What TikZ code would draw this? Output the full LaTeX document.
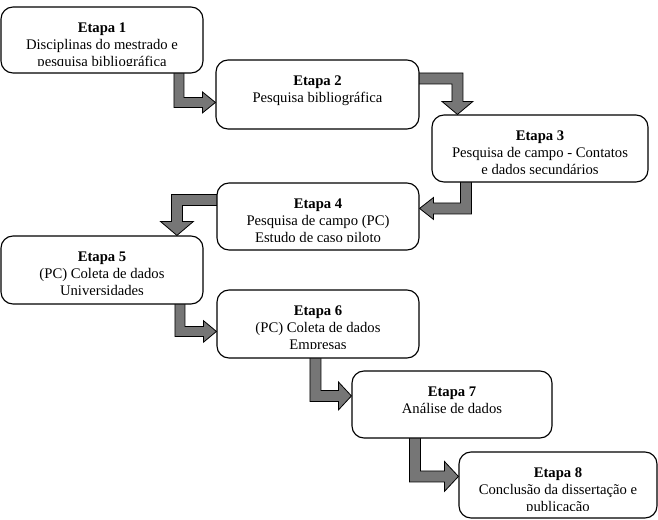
\documentclass[tikz,border=0pt]{standalone}
\usepackage{fontspec}
\setmainfont{Liberation Serif}
\usetikzlibrary{calc}
\pgfdeclarelayer{background}
\pgfsetlayers{background,main}
\definecolor{arrowgray}{RGB}{118,118,118}
\tikzset{
  stage/.style={draw=black, line width=0.85pt, fill=white, rounded corners=9pt, inner sep=0pt},
  stagetext/.style={anchor=north, align=center, inner sep=0pt, font=\fontsize{11pt}{12.75pt}\selectfont},
  blockarrow/.style={fill=arrowgray, draw=black, line width=0.6pt, line join=miter},
}
% name, x1, y1, x2, y2, text
\newcommand{\mkstage}[6]{%
  \node[stage, minimum width={(#4-#2)*0.75pt}, minimum height={(#5-#3)*0.75pt}] (#1) at ({(#2+#4)/2},{(#3+#5)/2}) {};
  \begin{scope}
    \clip (#1.north west) rectangle ($(#1.north east)+(0,59)$);
    \node[stagetext] (#1t) at ([yshift=-10.125pt]#1.north) {\rule{0pt}{9pt}#6};
  \end{scope}}
% start, tip, half shaft, half head, head length
\newcommand{\arrowDR}[5]{%
  \draw[blockarrow] ($(#1)+(-#3,-2)$) -- ($(#1|-#2)+(-#3,#3)$) -- ($(#2)+(-#5,#3)$) -- ($(#2)+(-#5,#4)$) -- (#2) -- ($(#2)+(-#5,-#4)$) -- ($(#2)+(-#5,-#3)$) -- ($(#1|-#2)+(#3,-#3)$) -- ($(#1)+(#3,-2)$) -- cycle;}
\newcommand{\arrowDL}[5]{%
  \draw[blockarrow] ($(#1)+(-#3,-2)$) -- ($(#1|-#2)+(-#3,-#3)$) -- ($(#2)+(#5,-#3)$) -- ($(#2)+(#5,-#4)$) -- (#2) -- ($(#2)+(#5,#4)$) -- ($(#2)+(#5,#3)$) -- ($(#1|-#2)+(#3,#3)$) -- ($(#1)+(#3,-2)$) -- cycle;}
\newcommand{\arrowRD}[5]{%
  \draw[blockarrow] ($(#1)+(-2,-#3)$) -- ($(#2|-#1)+(#3,-#3)$) -- ($(#2)+(#3,-#5)$) -- ($(#2)+(#4,-#5)$) -- (#2) -- ($(#2)+(-#4,-#5)$) -- ($(#2)+(-#3,-#5)$) -- ($(#2|-#1)+(-#3,#3)$) -- ($(#1)+(-2,#3)$) -- cycle;}
\newcommand{\arrowLD}[5]{%
  \draw[blockarrow] ($(#1)+(2,-#3)$) -- ($(#2|-#1)+(-#3,-#3)$) -- ($(#2)+(-#3,-#5)$) -- ($(#2)+(-#4,-#5)$) -- (#2) -- ($(#2)+(#4,-#5)$) -- ($(#2)+(#3,-#5)$) -- ($(#2|-#1)+(#3,#3)$) -- ($(#1)+(2,#3)$) -- cycle;}
\begin{document}
\begin{tikzpicture}[x=0.75pt, y=-0.75pt]
\useasboundingbox (0,0) rectangle (658,519);
\mkstage{b1}{1}{7}{203}{73}{\textbf{Etapa 1}\\Disciplinas do mestrado e\\pesquisa bibliográfica}
\mkstage{b2}{216}{60}{419}{129}{\textbf{Etapa 2}\\Pesquisa bibliográfica}
\mkstage{b3}{432}{115}{648}{182}{\textbf{Etapa 3}\\Pesquisa de campo - Contatos\\e dados secundários}
\mkstage{b4}{217}{183}{419}{250}{\textbf{Etapa 4}\\Pesquisa de campo (PC)\\Estudo de caso piloto}
\mkstage{b5}{1}{236}{203}{304}{\textbf{Etapa 5}\\(PC) Coleta de dados\\Universidades}
\mkstage{b6}{217}{290}{419}{358}{\textbf{Etapa 6}\\(PC) Coleta de dados\\Empresas}
\mkstage{b7}{352}{371}{552}{438}{\textbf{Etapa 7}\\Análise de dados}
\mkstage{b8}{459}{452}{657}{518}{\textbf{Etapa 8}\\Conclusão da dissertação e\\publicação}

\coordinate (a1s) at ($(b1.south west)+(178.5,0)$);
\coordinate (a1t) at ($(b2.north west)+(0,43)$);
\coordinate (a2s) at ($(b2.north east)+(0,19)$);
\coordinate (a2t) at ($(b3.north west)+(26,0)$);
\coordinate (a3s) at ($(b3.south west)+(34.5,0)$);
\coordinate (a3t) at ($(b4.north east)+(0,26)$);
\coordinate (a4s) at ($(b4.north west)+(0,17.5)$);
\coordinate (a4t) at ($(b5.north west)+(176.5,0)$);
\coordinate (a5s) at ($(b5.south west)+(179.5,0)$);
\coordinate (a5t) at ($(b6.north west)+(0,42)$);
\coordinate (a6s) at ($(b6.south west)+(99,0)$);
\coordinate (a6t) at ($(b7.north west)+(0,25.5)$);
\coordinate (a7s) at ($(b7.south west)+(63.5,0)$);
\coordinate (a7t) at ($(b8.north west)+(0,25)$);

\begin{pgfonlayer}{background}
\arrowDR{a1s}{a1t}{5}{10.5}{13}
\arrowRD{a2s}{a2t}{5.5}{15.5}{13}
\arrowDL{a3s}{a3t}{5.5}{11}{14}
\arrowLD{a4s}{a4t}{5.5}{16.5}{14}
\arrowDR{a5s}{a5t}{5}{10.8}{13}
\arrowDR{a6s}{a6t}{5.5}{14}{13}
\arrowDR{a7s}{a7t}{5.5}{15}{14}
\end{pgfonlayer}
\end{tikzpicture}
\end{document}
